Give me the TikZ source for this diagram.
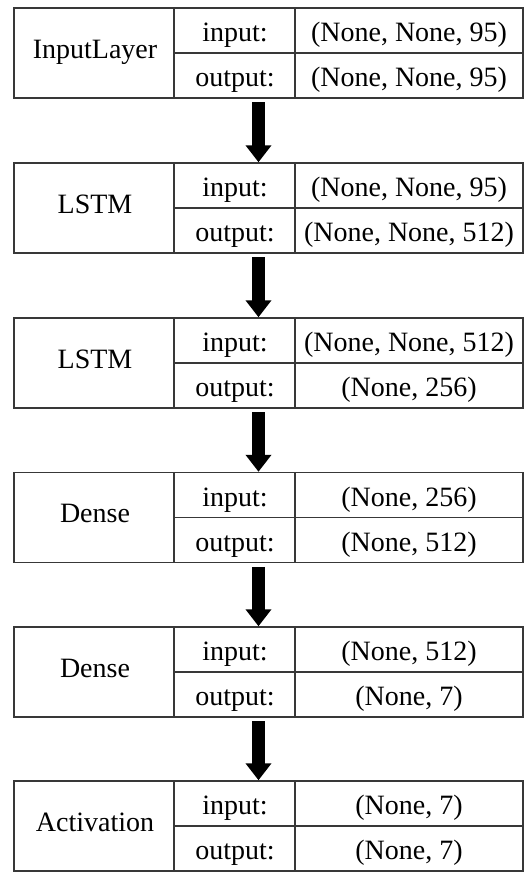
\documentclass[tikz,border=0pt]{standalone}
\usepackage{fontspec}
\setmainfont{Liberation Serif}
\usetikzlibrary{arrows.meta}
\begin{document}
\begin{tikzpicture}[x=1pt,y=1pt,
  layerbox/.style={draw=black!78,line width=1.5pt,rectangle,minimum width=509pt,minimum height=90pt,inner sep=0pt},
  txt/.style={font=\fontsize{28}{30}\selectfont,inner sep=0pt,anchor=base},
  flow/.style={line width=13pt,-{Triangle[width=25pt,length=17pt]},shorten <=3.5pt}]
\useasboundingbox (0,0) rectangle (527,-875);
\foreach \i/\t/\name/\inp/\outp in {
  1/8/InputLayer/{(None, None, 95)}/{(None, None, 95)},
  2/163/LSTM/{(None, None, 95)}/{(None, None, 512)},
  3/318/LSTM/{(None, None, 512)}/{(None, 256)},
  4/472.5/Dense/{(None, 256)}/{(None, 512)},
  5/627/Dense/{(None, 512)}/{(None, 7)},
  6/781/Activation/{(None, 7)}/{(None, 7)}}{
  \node[layerbox] (L\i) at (268.5,-\t-45) {};
  \draw[draw=black!78,line width=1.5pt] (174,-\t) -- (174,-\t-90)
        (295,-\t) -- (295,-\t-90) (174,-\t-45) -- (523,-\t-45);
  \node[txt] (N\i) at (95,-\t-50.3) {\name};
  \node[txt] (I\i) at (235,-\t-33.7) {input:};
  \node[txt] (O\i) at (235,-\t-78.7) {output:};
  \node[txt] (IV\i) at (409,-\t-33.7) {\inp};
  \node[txt] (OV\i) at (409,-\t-78.7) {\outp};
}
\foreach \a/\b in {1/2,2/3,3/4,4/5,5/6}{
  \draw[flow] (L\a.south -| 258.5,0) -- (L\b.north -| 258.5,0);
}
\end{tikzpicture}
\end{document}
